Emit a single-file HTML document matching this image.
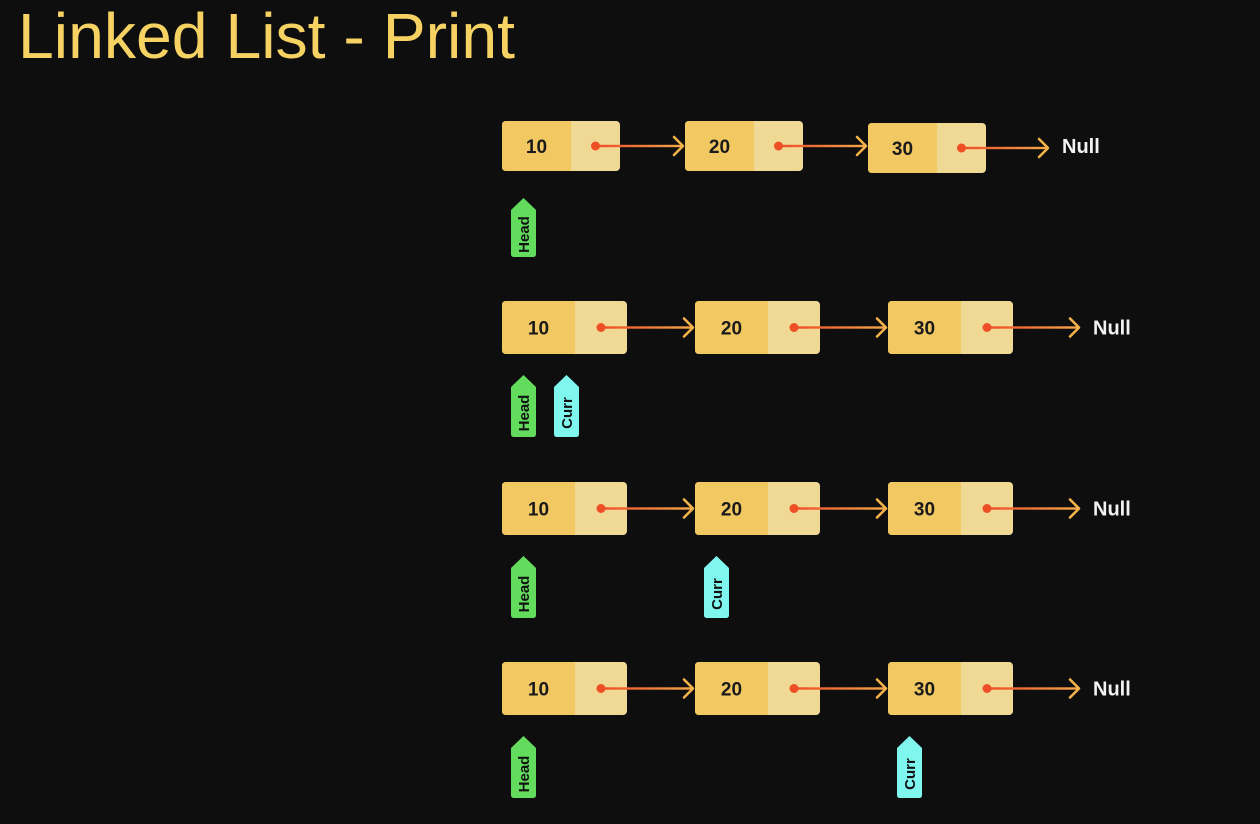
<!DOCTYPE html>
<html><head><meta charset="utf-8"><style>
html,body{margin:0;padding:0;background:#0e0e0e;}
svg{display:block;font-family:"Liberation Sans",Arial,sans-serif;}
</style></head><body>
<svg id="s" width="1260" height="824" viewBox="0 0 1260 824">
<defs>
<linearGradient id="lg" x1="0" x2="1" y1="0" y2="0"><stop offset="0" stop-color="#ee4a25"/><stop offset="1" stop-color="#f4a84a"/></linearGradient>
</defs>
<rect width="1260" height="824" fill="#0e0e0e"/>
<text x="18" y="58" font-size="64" fill="#f6d263" textLength="497" lengthAdjust="spacingAndGlyphs">Linked List - Print</text>
</svg>
<script>
const values=[10,20,30];
const rowsY=[121,301,482,662];
const currIndex=[-1,0,1,2];
const NS="http://www.w3.org/2000/svg";
const svg=document.getElementById('s');
function mk(t,a,p){const e=document.createElementNS(NS,t);for(const k in a)e.setAttribute(k,a[k]);(p||svg).appendChild(e);return e;}
function tag(x,y,h,color,label,p){
  const w=25;
  const g=mk('g',{},p);
  mk('path',{d:`M${x} ${y+12} L${x+w/2} ${y} L${x+w} ${y+12} L${x+w} ${y+h-3} Q${x+w} ${y+h} ${x+w-3} ${y+h} L${x+3} ${y+h} Q${x} ${y+h} ${x} ${y+h-3} Z`,fill:color},g);
  const t=mk('text',{x:0,y:0,'font-size':15,'font-weight':'bold',fill:'#111','text-anchor':'middle',transform:`translate(${x+w/2+5.5},${y+h/2+7}) rotate(-90)`},g);
  t.textContent=label;
  return g;
}
rowsY.forEach((y,r)=>{
  const first=r===0;
  const W=first?118:125, H=first?50:53, VW=first?69:73;
  const xs=first?[502,685,868]:[502,695,888];
  const nullX=first?1062:1093;
  const row=mk('g',{});
  
  
  values.forEach((v,i)=>{
    const x=xs[i], yy=(first&&i===2)?y+2:y, cy=yy+H/2;
    const n=mk('g',{},row);
    
    
    mk('rect',{x:x,y:yy,width:W,height:H,rx:4,fill:'#f0d895'},n);
    mk('path',{d:`M${x+VW} ${yy} L${x+4} ${yy} Q${x} ${yy} ${x} ${yy+4} L${x} ${yy+H-4} Q${x} ${yy+H} ${x+4} ${yy+H} L${x+VW} ${yy+H} Z`,fill:'#f2c862'},n);
    const t=mk('text',{x:x+VW/2,y:cy+7,'font-size':19,'font-weight':'bold',fill:'#1a1a1a','text-anchor':'middle'},n);
    t.textContent=v;
    const dx=x+VW+(W-VW)/2;
    const end=i<2?xs[i+1]-2:nullX-14;
    mk('rect',{x:dx,y:cy-1.2,width:end-dx,height:2.4,fill:'url(#lg)'},n);
    mk('circle',{cx:dx,cy:cy,r:4.5,fill:'#ee4f25'},n);
    mk('path',{d:`M${end-9} ${cy-9} L${end} ${cy} L${end-9} ${cy+9}`,fill:'none',stroke:'#f4b34a','stroke-width':2.6,'stroke-linecap':'round','stroke-linejoin':'round'},n);
  });
  const nt=mk('text',{x:nullX,y:y+H/2+7,'font-size':20,'font-weight':'bold',fill:'#f2f2f2'},row);
  nt.textContent='Null';
  
  
  const ty=first?198:y+74, th=first?59:62;
  const h=tag(511,ty,th,'#63dc5e','Head',row);
  
  
  if(currIndex[r]>=0){
    const cx=currIndex[r]===0?554:xs[currIndex[r]]+9;
    const c=tag(cx,ty,th,'#7ff7ef','Curr',row);
    
    
  }
});
</script>
</body></html>
